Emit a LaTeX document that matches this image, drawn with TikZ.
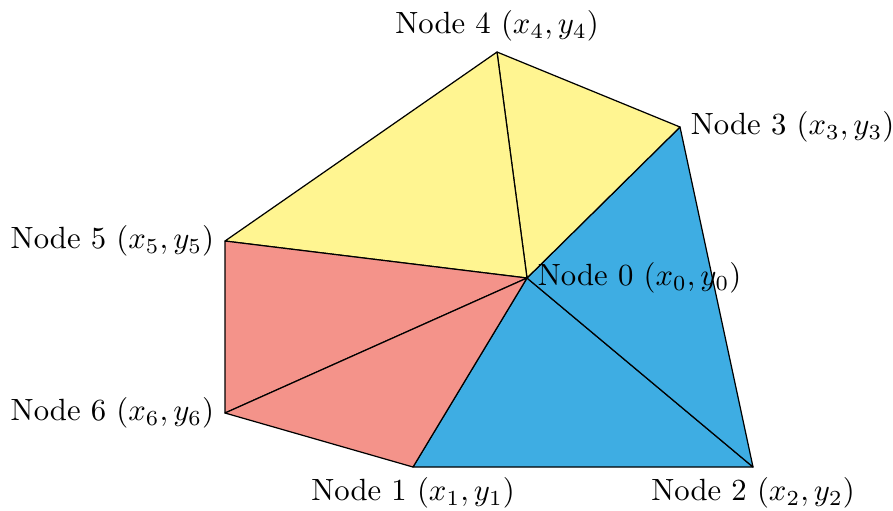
\documentclass[tikz,border=0pt]{standalone}
\definecolor{cyel}{RGB}{255,245,145}
\definecolor{cred}{RGB}{244,147,138}
\definecolor{cblu}{RGB}{62,173,227}
\begin{document}
\begin{tikzpicture}[x=0.3257pt,y=-0.3257pt,
  tri/.style={draw=black,line width=0.4pt,line join=round}]
\useasboundingbox (0,0) rectangle (893,510);
\coordinate (n0) at (527,278);
\coordinate (n1) at (413,467);
\coordinate (n2) at (753,467);
\coordinate (n3) at (680,127);
\coordinate (n4) at (497,52);
\coordinate (n5) at (225,241);
\coordinate (n6) at (225,413);
\filldraw[tri,fill=cblu] (n0) -- (n1) -- (n2) -- cycle;
\filldraw[tri,fill=cblu] (n0) -- (n2) -- (n3) -- cycle;
\filldraw[tri,fill=cyel] (n0) -- (n3) -- (n4) -- cycle;
\filldraw[tri,fill=cyel] (n0) -- (n4) -- (n5) -- cycle;
\filldraw[tri,fill=cred] (n0) -- (n5) -- (n6) -- cycle;
\filldraw[tri,fill=cred] (n0) -- (n6) -- (n1) -- cycle;
\node[anchor=west] (l0) at (n0) {Node 0 $(x_0,y_0)$};
\node[anchor=north] (l1) at (n1) {Node 1 $(x_1,y_1)$};
\node[anchor=north] (l2) at (n2) {Node 2 $(x_2,y_2)$};
\node[anchor=west] (l3) at (n3) {Node 3 $(x_3,y_3)$};
\node[anchor=south] (l4) at (n4) {Node 4 $(x_4,y_4)$};
\node[anchor=east] (l5) at (n5) {Node 5 $(x_5,y_5)$};
\node[anchor=east] (l6) at (n6) {Node 6 $(x_6,y_6)$};
\end{tikzpicture}
\end{document}
